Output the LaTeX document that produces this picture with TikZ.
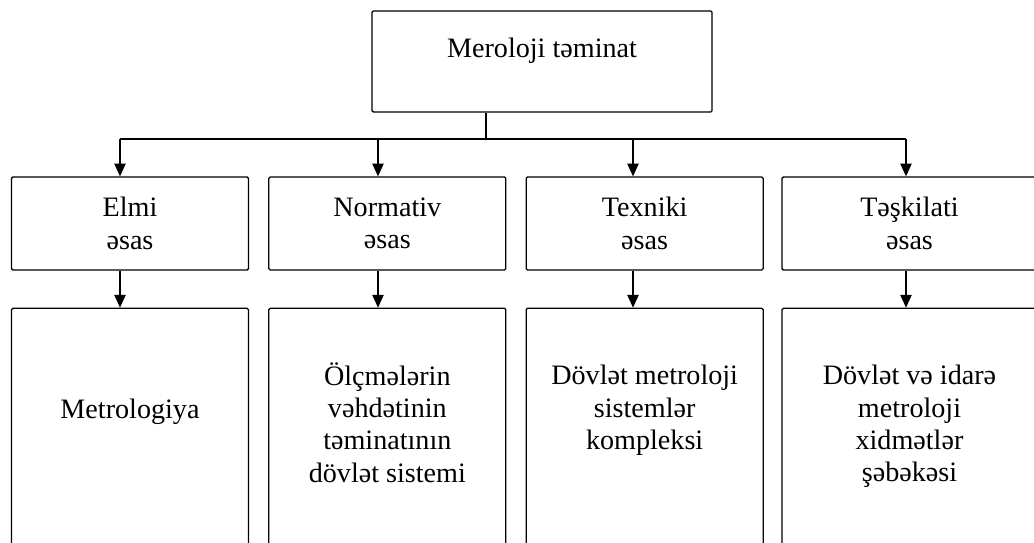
\documentclass[tikz,border=0pt]{standalone}
\usepackage{fontspec}
\setmainfont{Liberation Serif}
\usetikzlibrary{arrows.meta,positioning}

\begin{document}
\begin{tikzpicture}[x=0.025cm,y=-0.025cm,>={Triangle[length=9pt,width=8pt]},
  line width=0.9pt,font=\fontsize{20}{23}\selectfont,
  main node/.style={draw,rounded corners=1pt,inner sep=0pt,align=center},
  base node/.style={main node,minimum width=5.925cm,minimum height=2.325cm},
  field node/.style={main node,minimum width=5.925cm,minimum height=7cm},
  field text/.style={align=center,inner sep=0pt}]

  \useasboundingbox (0,0) rectangle (1034,543);
  \clip (0,0) rectangle (1034,543);

  \node[main node,minimum width=8.5cm,text height=1.175cm,text depth=1.35cm,anchor=base] (top) at (542,58) {Meroloji təminat};

  \node[base node] (e1) at (130,223.5) {Elmi\\əsas};
  \node[base node] (e2) [right=0.475cm of e1] {Normativ\\əsas};
  \node[base node] (e3) [right=0.475cm of e2] {Texniki\\əsas};
  \node[base node,minimum width=6.375cm] (e4) [right=0.4375cm of e3] {Təşkilati\\əsas};

  \node[field node] (b1) [below=0.925cm of e1] {};
  \node[field node] (b2) [below=0.925cm of e2] {};
  \node[field node] (b3) [below=0.925cm of e3] {};
  \node[field node,minimum width=6.375cm] (b4) [below=0.925cm of e4] {};

  \node[field text] (t1) [below=2.2cm of b1.north] {\strut Metrologiya};
  \node[field text] (t2) [below=1.35cm of b2.north] {\strut Ölçmələrin\\vəhdətinin\\təminatının\\dövlət sistemi};
  \node[field text] (t3) [below=1.35cm of b3.north] {\strut Dövlət metroloji\\sistemlər\\kompleksi};
  \node[field text] (t4) [below=1.35cm of b4.north] {\strut Dövlət və idarə\\metroloji\\xidmətlər\\şəbəkəsi};

  \coordinate (hub) at (486,139);
  \coordinate (j1) at (120,139);
  \coordinate (j2) at (378,139);
  \coordinate (j3) at (633,139);
  \coordinate (j4) at (906,139);

  \draw (top.south -| hub) -- (hub);
  \draw (j1) -- (j4);
  \foreach \i in {1,...,4} {
    \draw[->] (j\i) -- (j\i |- e\i.north);
    \draw[->] (j\i |- e\i.south) -- (j\i |- b\i.north);
  }

\end{tikzpicture}
\end{document}
